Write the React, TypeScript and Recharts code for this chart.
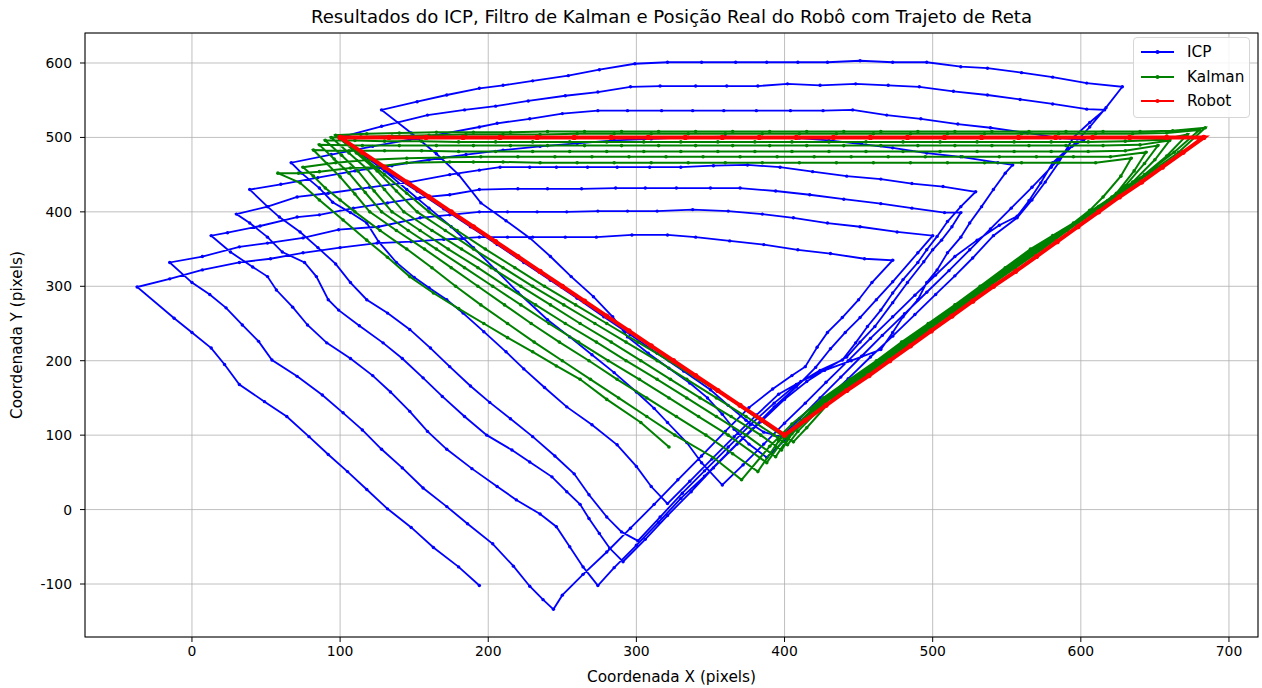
import React from 'react';
import { ScatterChart, Scatter, XAxis, YAxis, CartesianGrid } from 'recharts';

type Pt = [number, number];

const xTicks = [0, 100, 200, 300, 400, 500, 600, 700];
const yTicks = [-100, 0, 100, 200, 300, 400, 500, 600];

// ICP estimate: one lap = descent, climb, top edge back to the left
const icpLoop1: Pt[] = [
  [100, 500], [117, 474], [134, 451], [152, 428], [170, 404], [188, 380], [206, 356], [224, 332], [242, 308], [260, 284],
  [278, 259], [296, 235], [314, 210], [332, 186], [350, 161], [362, 140], [374, 120], [386, 104], [398, 98],
  [410, 122], [424, 150], [438, 178], [452, 206], [466, 234], [481, 263], [496, 292], [511, 321], [525, 349], [539, 377],
  [553, 405], [567, 433], [580, 460], [594, 488], [606, 514], [617, 540], [628, 568],
  [604, 573], [581, 581], [560, 587], [537, 593], [519, 595], [496, 601], [473, 601], [451, 603], [429, 601], [409, 601],
  [388, 601], [367, 601], [344, 601], [321, 601], [299, 599], [275, 591], [254, 583], [230, 576], [210, 570], [194, 566],
  [172, 557], [152, 548],
];
const icpLoop2: Pt[] = [
  [128, 537], [148, 506], [165, 478], [180, 450], [195, 412], [212, 388], [228, 365], [242, 340], [256, 313], [271, 286],
  [284, 259], [294, 232], [308, 210], [322, 190], [336, 170], [348, 150], [358, 128], [366, 108], [376, 88], [388, 70],
  [400, 93], [414, 120], [428, 148], [443, 176], [458, 205], [473, 233], [488, 262], [502, 289], [515, 314], [527, 338],
  [541, 368], [557, 392], [567, 416], [576, 440], [585, 466], [595, 500], [606, 520], [616, 537],
  [604, 538], [581, 545], [559, 551], [537, 557], [514, 562], [491, 568], [470, 570], [448, 572], [424, 570], [402, 572],
  [382, 569], [361, 569], [340, 569], [316, 569], [296, 568], [274, 561], [252, 556], [227, 549], [205, 542], [184, 537],
  [159, 530], [128, 515],
];
const icpLoop3: Pt[] = [
  [100, 500], [115, 478], [130, 455], [145, 430], [160, 405], [175, 380], [190, 352], [205, 322], [220, 292], [240, 255],
  [255, 232], [270, 208], [285, 184], [300, 158], [312, 136], [321, 117], [334, 90], [344, 63], [358, 33],
  [372, 60], [386, 88], [400, 116], [414, 143], [428, 171], [443, 200], [458, 230], [473, 259], [488, 288], [502, 315],
  [515, 340], [530, 362], [545, 382], [557, 394], [565, 415], [573, 439], [581, 466], [591, 484], [602, 497],
  [586, 499], [564, 506], [539, 513], [517, 518], [492, 525], [469, 530], [446, 537], [426, 536], [404, 536], [381, 536],
  [359, 536], [338, 536], [317, 536], [294, 536], [274, 536], [250, 532], [228, 525], [206, 519], [194, 514], [170, 505],
  [147, 497], [122, 488], [94, 477],
];
const icpLoop4: Pt[] = [
  [67, 466], [74, 452], [86, 432], [95, 413], [107, 399], [118, 385], [126, 360], [138, 332], [150, 312], [160, 298],
  [172, 282], [183, 264], [197, 239], [212, 212], [224, 189], [238, 164], [253, 138], [270, 114], [287, 87], [300, 58],
  [310, 31], [321, 8],
  [336, 38], [351, 68], [366, 98], [381, 127], [396, 155], [411, 172], [427, 187], [445, 200], [465, 215], [473, 238],
  [480, 259], [490, 282], [496, 305], [503, 322], [510, 345], [519, 366], [525, 385], [533, 407], [541, 430], [549, 452],
  [554, 463],
  [544, 466], [519, 474], [496, 479], [473, 486], [452, 491], [430, 496], [410, 499], [385, 500], [360, 501], [335, 500],
  [310, 498], [285, 496], [260, 492], [235, 488], [210, 483], [185, 477], [160, 470], [135, 462], [110, 455], [85, 446],
  [60, 437],
];
const icpLoop5: Pt[] = [
  [39, 430], [51, 407], [59, 393], [73, 373], [85, 352], [97, 330], [107, 305], [118, 282], [132, 264], [147, 242],
  [161, 217], [174, 192], [188, 166], [201, 144], [215, 122], [230, 98], [245, 72], [258, 48], [268, 20], [280, -10],
  [290, -30], [301, -42],
  [316, -10], [331, 22], [346, 52], [362, 84], [377, 114], [393, 143], [408, 168], [424, 187], [439, 201], [448, 224],
  [456, 246], [465, 268], [473, 291], [480, 309], [490, 332], [496, 349], [503, 367], [510, 387], [519, 407], [529, 427],
  [507, 434], [486, 438], [465, 444], [442, 448], [419, 454], [397, 460], [375, 463], [352, 462], [330, 460], [309, 460],
  [287, 460], [267, 460], [246, 460], [228, 460], [208, 460], [194, 456], [174, 450], [147, 440], [120, 433], [92, 425],
  [71, 420], [51, 407],
];
const icpLoop6: Pt[] = [
  [30, 397], [39, 385], [51, 366], [61, 346], [76, 332], [84, 313], [92, 282], [99, 268], [113, 247], [129, 224],
  [142, 203], [156, 177], [169, 152], [184, 125], [199, 100], [216, 80], [228, 64], [243, 44], [253, 24], [262, 7],
  [268, -12], [275, -32], [282, -52], [291, -70],
  [306, -40], [321, -8], [337, 24], [352, 56], [368, 88], [384, 118], [400, 148], [415, 172], [429, 190], [442, 205],
  [451, 225], [461, 246], [473, 278], [483, 305], [494, 333], [500, 349], [506, 362], [513, 380], [519, 399],
  [508, 399], [486, 405], [465, 411], [440, 417], [417, 423], [394, 428], [370, 432], [350, 432], [327, 432], [306, 432],
  [286, 432], [263, 431], [240, 431], [220, 431], [194, 430], [174, 423], [154, 419], [132, 412], [109, 405], [86, 396],
  [71, 393], [46, 381], [24, 372],
];
const icpLoop7: Pt[] = [
  [13, 368], [26, 346], [41, 326], [51, 313], [57, 295], [68, 272], [78, 248], [91, 224], [107, 203], [122, 180],
  [134, 158], [147, 132], [159, 105], [172, 81], [189, 55], [206, 31], [219, 13], [235, -6], [246, -23], [255, -50],
  [264, -77], [274, -102],
  [285, -78], [300, -48], [315, -17], [330, 15], [346, 45], [362, 77], [378, 108], [393, 138], [408, 165], [421, 191],
  [431, 216], [441, 238], [451, 258], [462, 282], [473, 306], [490, 345], [500, 368],
  [476, 373], [451, 380], [429, 385], [406, 392], [385, 397], [362, 401], [338, 403], [314, 401], [294, 401], [274, 401],
  [253, 400], [233, 400], [213, 400], [194, 400], [174, 396], [154, 392], [126, 380], [99, 376], [75, 365], [51, 358],
  [32, 353], [7, 340],
];
const icpLoop8: Pt[] = [
  [-15, 332], [0, 305], [12, 289], [23, 271], [34, 248], [45, 226], [54, 201], [71, 179], [88, 154], [102, 130],
  [115, 107], [128, 81], [142, 56], [156, 29], [172, 4], [186, -19], [203, -46], [217, -76], [228, -103], [237, -121],
  [244, -134],
  [250, -115], [264, -87], [280, -57], [296, -25], [312, 7], [328, 40], [344, 72], [360, 105], [376, 137], [392, 162],
  [405, 180], [414, 192], [422, 218], [429, 238], [439, 258], [450, 282], [459, 305], [473, 335],
  [454, 337], [431, 344], [409, 349], [386, 356], [363, 361], [340, 366], [321, 369], [297, 369], [273, 366], [252, 366],
  [230, 366], [213, 366], [194, 366], [170, 363], [148, 360], [125, 358], [100, 352], [75, 345], [53, 337], [32, 332],
  [7, 322], [-15, 310],
];
const icpTail: Pt[] = [
  [-37, 299], [-12, 257], [0, 238], [13, 217], [22, 195], [32, 168], [49, 145], [64, 125], [79, 98], [92, 74],
  [105, 51], [118, 27], [132, 1], [148, -24], [163, -51], [180, -77], [194, -102],
];

// Kalman estimate
const kalmanLoop1: Pt[] = [
  [100, 500], [115, 475], [130, 450], [145, 425], [160, 400], [179, 375], [198, 350], [218, 325], [238, 300], [259, 275],
  [280, 250], [301, 225], [322, 200], [342, 175], [362, 150], [380, 125], [398, 100], [406, 91],
  [415, 110], [433, 150], [451, 175], [468, 200], [486, 225], [503, 250], [521, 275], [538, 300], [556, 325], [574, 350],
  [591, 375], [609, 400], [627, 425], [645, 450], [666, 480], [684, 513],
  [662, 509], [640, 508], [615, 508], [590, 508], [565, 508], [540, 508], [515, 508], [490, 508], [465, 508], [440, 508],
  [415, 508], [390, 508], [365, 508], [340, 508], [315, 508], [290, 508], [265, 508], [240, 508], [215, 507], [190, 507],
  [165, 507], [140, 506], [118, 505],
];
const kalmanLoop2: Pt[] = [
  [97, 503], [111, 479], [125, 455], [138, 428], [152, 400], [171, 375], [190, 350], [210, 325], [230, 300], [251, 275],
  [272, 250], [293, 225], [314, 200], [334, 175], [354, 150], [374, 125], [393, 100], [402, 87],
  [409, 105], [431, 150], [449, 175], [467, 200], [484, 225], [502, 250], [520, 275], [537, 300], [555, 325], [573, 350],
  [590, 375], [608, 400], [626, 425], [643, 450], [663, 480], [680, 510],
  [658, 506], [635, 505], [610, 505], [585, 505], [560, 505], [535, 505], [510, 505], [485, 505], [460, 505], [435, 505],
  [410, 505], [385, 505], [360, 505], [335, 505], [310, 505], [285, 505], [260, 505], [235, 504], [210, 504], [185, 504],
  [160, 503], [135, 502], [114, 501],
];
const kalmanLoop3: Pt[] = [
  [94, 500], [106, 479], [118, 458], [130, 430], [143, 400], [162, 375], [182, 350], [202, 325], [222, 300], [242, 275],
  [262, 250], [283, 225], [303, 200], [323, 175], [343, 150], [364, 125], [384, 100], [398, 80],
  [405, 102], [430, 150], [448, 175], [466, 200], [483, 225], [501, 250], [519, 275], [536, 300], [554, 325], [572, 350],
  [589, 375], [607, 400], [624, 423], [640, 445], [658, 475], [672, 504],
  [655, 497], [630, 495], [605, 494], [580, 494], [555, 494], [530, 494], [505, 494], [480, 494], [455, 494], [430, 494],
  [405, 494], [380, 494], [355, 494], [330, 494], [305, 494], [280, 494], [255, 494], [230, 494], [205, 494], [180, 494],
  [155, 495], [130, 495], [110, 496],
];
const kalmanLoop4: Pt[] = [
  [90, 496], [101, 476], [112, 455], [123, 428], [135, 400], [154, 375], [173, 350], [193, 325], [212, 300], [232, 275],
  [252, 250], [273, 225], [293, 200], [314, 175], [334, 150], [354, 125], [374, 100], [394, 71],
  [403, 98], [429, 150], [447, 175], [465, 200], [482, 225], [500, 250], [518, 275], [535, 300], [553, 325], [571, 350],
  [588, 375], [606, 400], [621, 420], [635, 440], [650, 470], [660, 496],
  [640, 490], [615, 489], [590, 489], [565, 489], [540, 489], [515, 489], [490, 489], [465, 489], [440, 489], [415, 489],
  [390, 489], [365, 489], [340, 489], [315, 489], [290, 489], [265, 489], [240, 489], [215, 489], [190, 489], [165, 489],
  [140, 489], [115, 489],
];
const kalmanLoop5: Pt[] = [
  [86, 490], [96, 471], [106, 452], [117, 426], [128, 400], [146, 375], [165, 350], [184, 325], [203, 300], [222, 275],
  [241, 250], [261, 225], [281, 200], [302, 175], [322, 150], [342, 125], [362, 100], [388, 63],
  [400, 96], [428, 150], [446, 175], [464, 200], [481, 225], [499, 250], [517, 275], [534, 300], [552, 325], [570, 350],
  [587, 372], [604, 395], [618, 415], [630, 435], [643, 465], [652, 489],
  [630, 482], [605, 481], [580, 481], [555, 481], [530, 481], [505, 481], [480, 481], [455, 481], [430, 481], [405, 481],
  [380, 481], [355, 481], [330, 481], [305, 481], [280, 481], [255, 481], [230, 481], [205, 481], [180, 481], [155, 482],
  [130, 482], [106, 482],
];
const kalmanLoop6: Pt[] = [
  [82, 483], [91, 465], [100, 447], [110, 424], [120, 400], [138, 375], [157, 350], [175, 325], [193, 300], [211, 275],
  [229, 250], [248, 225], [268, 200], [287, 175], [307, 150], [327, 125], [347, 100], [365, 75], [382, 51],
  [396, 92], [427, 150], [445, 175], [463, 200], [480, 225], [498, 250], [516, 275], [533, 300], [551, 325], [568, 350],
  [584, 370], [600, 390], [612, 407], [624, 425], [636, 455], [644, 480],
  [620, 474], [595, 474], [570, 474], [545, 474], [520, 474], [495, 474], [470, 474], [445, 474], [420, 474], [395, 474],
  [370, 474], [345, 474], [320, 474], [295, 474], [270, 474], [245, 474], [220, 474], [195, 474], [170, 473], [145, 472],
  [120, 470], [97, 466],
];
const kalmanLoop7: Pt[] = [
  [75, 460], [82, 448], [90, 432], [100, 416], [110, 400], [127, 375], [145, 350], [162, 325], [178, 300], [195, 275],
  [213, 250], [231, 225], [250, 200], [269, 175], [288, 150], [307, 125], [326, 100], [352, 70], [371, 40],
  [390, 85], [405, 115], [426, 150], [444, 175], [462, 200], [479, 225], [497, 250], [515, 275], [532, 300], [549, 325],
  [566, 350], [581, 368], [595, 385], [606, 402], [615, 420], [627, 448], [634, 472],
  [610, 466], [585, 466], [560, 466], [535, 466], [510, 466], [485, 466], [460, 466], [435, 466], [410, 466], [385, 466],
  [360, 466], [335, 466], [310, 466], [285, 466], [260, 466], [235, 466], [210, 467], [190, 467], [174, 467], [145, 466],
  [122, 460], [107, 459], [86, 454], [72, 452],
];
const kalmanTail: Pt[] = [
  [58, 452], [73, 439], [86, 416], [102, 389], [118, 362], [132, 339], [147, 313], [163, 291], [180, 270], [197, 250],
  [213, 231], [230, 212], [246, 193], [262, 175], [280, 148], [303, 117], [322, 84],
];

// real robot path
const robotPath: Pt[] = [
  [100, 500], [115, 480], [130, 460], [145, 440], [160, 420], [175, 400], [190, 380], [205, 360], [220, 340], [235, 320],
  [250, 300], [265, 280], [280, 260], [295, 240], [310, 220], [325, 200], [340, 180], [355, 160], [370, 140], [385, 120],
  [400, 100],
  [414, 120], [428, 140], [442, 160], [457, 180], [471, 200], [485, 220], [499, 240], [513, 260], [527, 280], [541, 300],
  [556, 320], [570, 340], [584, 360], [598, 380], [612, 400], [626, 420], [641, 440], [655, 460], [669, 480], [683, 500],
  [658, 500], [633, 500], [608, 500], [583, 500], [558, 500], [533, 500], [508, 500], [483, 500], [458, 500], [433, 500],
  [408, 500], [383, 500], [358, 500], [333, 500], [308, 500], [283, 500], [258, 500], [233, 500], [208, 500], [183, 500],
  [158, 500], [133, 500], [100, 500],
];

const toRows = (pts: Pt[]) => pts.map(([x, y]) => ({ x, y }));

const icpData = toRows([
  ...icpLoop1, ...icpLoop2, ...icpLoop3, ...icpLoop4, ...icpLoop5, ...icpLoop6, ...icpLoop7, ...icpLoop8, ...icpTail,
]);
const kalmanData = toRows([
  ...kalmanLoop1, ...kalmanLoop2, ...kalmanLoop3, ...kalmanLoop4, ...kalmanLoop5, ...kalmanLoop6, ...kalmanLoop7,
  ...kalmanTail,
]);
const robotData = toRows(robotPath);

const FONT = '"DejaVu Sans", sans-serif';
const BLUE = '#0000ff';
const GREEN = '#008000';
const RED = '#ff0000';

const dot = (color: string, r: number) => (props: any) =>
  <circle cx={props.cx} cy={props.cy} r={r} fill={color} />;

const legendItems = [
  { name: 'ICP', color: BLUE },
  { name: 'Kalman', color: GREEN },
  { name: 'Robot', color: RED },
];

export default function App() {
  const tickStyle = { fill: '#000', fontSize: 13.9, fontFamily: FONT };
  return (
    <div style={{ position: 'absolute', left: 0, top: 0, width: 1262, height: 688, background: '#fff', fontFamily: FONT }}>
      <ScatterChart width={1262} height={688} margin={{ top: 33, right: 4, bottom: 21, left: 35 }}>
        <CartesianGrid stroke="#b0b0b0" strokeWidth={0.8} />
        <XAxis
          type="number"
          dataKey="x"
          domain={[-72.2, 719.6]}
          ticks={xTicks}
          interval={0}
          allowDataOverflow
          axisLine={false}
          tickLine={{ stroke: '#000' }}
          tickSize={5}
          tickMargin={4}
          tick={tickStyle}
          height={30}
        />
        <YAxis
          type="number"
          dataKey="y"
          domain={[-171.2, 640.3]}
          ticks={yTicks}
          interval={0}
          allowDataOverflow
          axisLine={false}
          tickLine={{ stroke: '#000' }}
          tickSize={5}
          tickMargin={8}
          tick={tickStyle}
          width={50}
        />
        <Scatter
          name="ICP"
          data={icpData}
          fill={BLUE}
          line={{ stroke: BLUE, strokeWidth: 1.8 }}
          lineType="joint"
          shape={dot(BLUE, 1.7)}
          isAnimationActive={false}
        />
        <Scatter
          name="Kalman"
          data={kalmanData}
          fill={GREEN}
          line={{ stroke: GREEN, strokeWidth: 2 }}
          lineType="joint"
          shape={dot(GREEN, 1.8)}
          isAnimationActive={false}
        />
        <Scatter
          name="Robot"
          data={robotData}
          fill={RED}
          line={{ stroke: RED, strokeWidth: 4 }}
          lineType="joint"
          shape={dot(RED, 2.6)}
          isAnimationActive={false}
        />
      </ScatterChart>

      <svg width={1262} height={688} style={{ position: 'absolute', left: 0, top: 0, pointerEvents: 'none' }}>
        <rect x={85} y={33} width={1173} height={604} fill="none" stroke="#000" strokeWidth={1} />
      </svg>

      <div style={{ position: 'absolute', left: 85, width: 1173, top: 6, lineHeight: '22px', textAlign: 'center', fontSize: 18.1, color: '#000' }}>
        Resultados do ICP, Filtro de Kalman e Posição Real do Robô com Trajeto de Reta
      </div>
      <div style={{ position: 'absolute', left: 85, width: 1173, top: 667, lineHeight: '20px', textAlign: 'center', fontSize: 15.3, color: '#000' }}>
        Coordenada X (pixels)
      </div>
      <div
        style={{
          position: 'absolute', left: 17, top: 335, transform: 'translate(-50%, -50%) rotate(-90deg)',
          whiteSpace: 'nowrap', fontSize: 15.3, color: '#000', lineHeight: '20px',
        }}
      >
        Coordenada Y (pixels)
      </div>

      <div
        style={{
          position: 'absolute', left: 1133, top: 37, width: 117, height: 81, boxSizing: 'border-box',
          border: '1px solid #d6d6d6', borderRadius: 4, background: 'rgba(255,255,255,0.85)',
        }}
      >
        {legendItems.map((it, i) => (
          <div key={it.name} style={{ position: 'absolute', left: 0, top: 4 + i * 24.5, height: 20, width: 115 }}>
            <svg width={40} height={20} style={{ position: 'absolute', left: 6, top: 0 }}>
              <line x1={1} y1={10} x2={34} y2={10} stroke={it.color} strokeWidth={2} />
              <circle cx={17.5} cy={10} r={2} fill={it.color} />
            </svg>
            <span style={{ position: 'absolute', left: 53, top: 0, lineHeight: '20px', fontSize: 15.3, color: '#000' }}>
              {it.name}
            </span>
          </div>
        ))}
      </div>
    </div>
  );
}
